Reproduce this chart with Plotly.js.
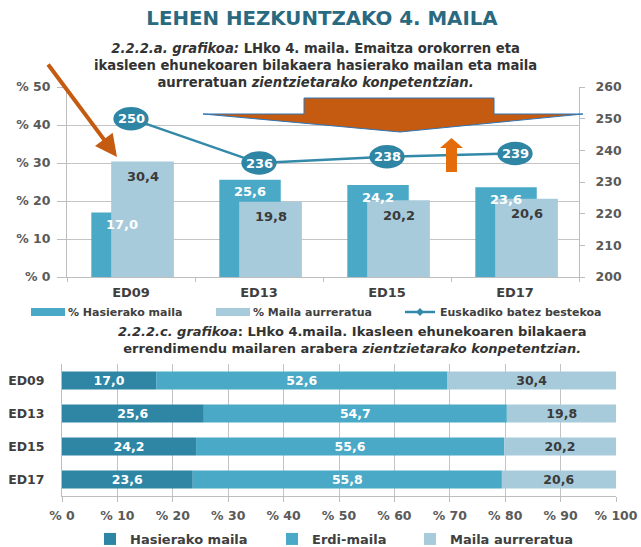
<!DOCTYPE html>
<html>
<head>
<meta charset="utf-8">
<script src="https://cdn.plot.ly/plotly-3.0.1.min.js"></script>
<style>html,body{margin:0;padding:0;background:#fff;}#chart{width:641px;height:547px;}</style>
</head>
<body>
<div id="chart"></div>
<script>
// ---- data ----
const years = ['ED09', 'ED13', 'ED15', 'ED17'];
const hasierako = [17.0, 25.6, 24.2, 23.6];
const erdiMaila = [52.6, 54.7, 55.6, 55.8];
const aurreratua = [30.4, 19.8, 20.2, 20.6];
const batezBestekoa = [250, 236, 238, 239];
const pctTicks = [0, 10, 20, 30, 40, 50];
const scoreTicks = [200, 210, 220, 230, 240, 250, 260];
const stackTicks = [0, 10, 20, 30, 40, 50, 60, 70, 80, 90, 100];

// ---- helpers ----
const W = 641, H = 547;
const X = px => px / W;
const Y = py => 1 - py / H;
const fmt = v => v.toFixed(1).replace('.', ',');
const pct = v => '% ' + v;
const FONT = '"DejaVu Sans", Verdana, sans-serif';

const cDark = '#49a9c6';
const cLight = '#a7cbdb';
const cLine = '#3289a8';
const cDeep = '#2f86a4';
const cOrange = '#c55a11';

const traces = [
  {
    type: 'bar', name: '% Hasierako maila', x: years, y: hasierako,
    width: 0.48, offset: -0.31, marker: {color: cDark},
    xaxis: 'x', yaxis: 'y', legend: 'legend'
  },
  {
    type: 'bar', name: '% Maila aurreratua', x: years, y: aurreratua,
    width: 0.49, offset: -0.155, marker: {color: cLight},
    xaxis: 'x', yaxis: 'y', legend: 'legend2'
  },
  {
    type: 'scatter', mode: 'lines+markers', name: 'Euskadiko batez bestekoa',
    x: years, y: batezBestekoa, line: {color: cLine, width: 2.5},
    marker: {color: cLine, size: 6, symbol: 'diamond'},
    xaxis: 'x', yaxis: 'y2', legend: 'legend3'
  },
  {
    type: 'bar', orientation: 'h', name: 'Hasierako maila', y: years, x: hasierako,
    base: years.map(() => 0), width: 0.55, marker: {color: cDeep},
    text: hasierako.map(fmt), textposition: 'inside', insidetextanchor: 'middle',
    constraintext: 'none', textangle: 0,
    textfont: {family: FONT, size: 12.5, color: '#ffffff', weight: 'bold'},
    xaxis: 'x3', yaxis: 'y3', legend: 'legend4'
  },
  {
    type: 'bar', orientation: 'h', name: 'Erdi-maila', y: years, x: erdiMaila,
    base: hasierako.slice(), width: 0.55, marker: {color: cDark},
    text: erdiMaila.map(fmt), textposition: 'inside', insidetextanchor: 'middle',
    constraintext: 'none', textangle: 0,
    textfont: {family: FONT, size: 12.5, color: '#ffffff', weight: 'bold'},
    xaxis: 'x3', yaxis: 'y3', legend: 'legend5'
  },
  {
    type: 'bar', orientation: 'h', name: 'Maila aurreratua', y: years, x: aurreratua,
    base: hasierako.map((v, i) => v + erdiMaila[i]), width: 0.55, marker: {color: cLight},
    text: aurreratua.map(fmt), textposition: 'inside', insidetextanchor: 'middle',
    constraintext: 'none', textangle: 0,
    textfont: {family: FONT, size: 12.5, color: '#3a3a3a', weight: 'bold'},
    xaxis: 'x3', yaxis: 'y3', legend: 'legend6'
  }
];

// ellipse markers for the average line
const shapes = batezBestekoa.map((v, i) => ({
  type: 'circle', xref: 'x', yref: 'y2',
  x0: i - 0.138, x1: i + 0.138, y0: v - 3.7, y1: v + 3.7,
  fillcolor: cDeep, line: {width: 0}
}));

// decorative orange arrows (pixel positions)
const pathFrom = pts => pts.map((p, k) => (k ? 'L' : 'M') + X(p[0]).toFixed(4) + ',' + Y(p[1]).toFixed(4)).join(' ') + ' Z';
shapes.push({
  type: 'path', xref: 'paper', yref: 'paper',
  path: pathFrom([[203,114],[304,114],[304,98],[494,98],[494,114],[583,114],[400,132]]),
  fillcolor: cOrange, line: {color: '#2e75b6', width: 1}
});
shapes.push({
  type: 'path', xref: 'paper', yref: 'paper',
  path: pathFrom([[446,172],[446,148],[440,148],[451.5,138],[463,148],[457,148],[457,172]]),
  fillcolor: '#e46c0a', line: {width: 0}
});

const annotations = [];
// score labels in ellipses
batezBestekoa.forEach((v, i) => annotations.push({
  xref: 'x', yref: 'y2', x: years[i], y: v, text: String(v), showarrow: false,
  font: {family: FONT, size: 13, color: '#ffffff', weight: 'bold'}
}));
// labels of the dark bars
hasierako.forEach((v, i) => annotations.push({
  xref: 'x', yref: 'y', x: i - 0.07, y: v, yshift: -12, text: fmt(v), showarrow: false,
  font: {family: FONT, size: 13, color: '#ffffff', weight: 'bold'}
}));
// labels of the light bars
aurreratua.forEach((v, i) => annotations.push({
  xref: 'x', yref: 'y', x: i + 0.09, y: v, yshift: -15, text: fmt(v), showarrow: false,
  font: {family: FONT, size: 13, color: '#3a3a3a', weight: 'bold'}
}));
// subtitles
annotations.push({
  xref: 'paper', yref: 'paper', x: X(315), y: Y(65), xanchor: 'center', yanchor: 'middle',
  showarrow: false, align: 'center',
  text: '<b><i>2.2.2.a. grafikoa:</i> LHko 4. maila. Emaitza orokorren eta<br>ikasleen ehunekoaren bilakaera hasierako mailan eta maila<br>aurreratuan <i>zientzietarako konpetentzian.</i></b>',
  font: {family: FONT, size: 13.2, color: '#333333'}
});
annotations.push({
  xref: 'paper', yref: 'paper', x: X(352), y: Y(340), xanchor: 'center', yanchor: 'middle',
  showarrow: false, align: 'center',
  text: '<b><i>2.2.2.c. grafikoa</i>: LHko 4.maila. Ikasleen ehunekoaren bilakaera<br>errendimendu mailaren arabera <i>zientzietarako konpetentzian.</i></b>',
  font: {family: FONT, size: 13, color: '#333333'}
});
// diagonal orange arrow
annotations.push({
  xref: 'paper', yref: 'paper', x: X(117), y: Y(157), ax: -70, ay: -94,
  text: '', showarrow: true, arrowhead: 2, arrowsize: 1.1, arrowwidth: 4,
  arrowcolor: cOrange, standoff: 0
});

const tickFont = {family: FONT, size: 12.5, color: '#5a5a5a', weight: 'bold'};
const gridC = '#c4c4c4';
const lgTop = {family: FONT, size: 11, color: '#404040', weight: 'bold'};
const lgBot = {family: FONT, size: 13, color: '#404040', weight: 'bold'};
const mkLegend = (textX, textY, font) => ({
  orientation: 'h', x: X(textX - 40), y: Y(textY), xanchor: 'left', yanchor: 'middle',
  font: font, bgcolor: 'rgba(0,0,0,0)', itemwidth: 30
});

const layout = {
  width: W, height: H,
  margin: {l: 0, r: 0, t: 0, b: 0, pad: 0, autoexpand: false},
  paper_bgcolor: '#ffffff', plot_bgcolor: 'rgba(0,0,0,0)',
  barmode: 'overlay',
  font: {family: FONT},
  title: {
    text: '<b>LEHEN HEZKUNTZAKO 4. MAILA</b>', x: X(322), y: Y(18),
    xanchor: 'center', yanchor: 'middle',
    font: {family: FONT, size: 19.8, color: '#2a6a80'}
  },
  xaxis: {
    domain: [X(67), X(579)], anchor: 'y', type: 'category',
    categoryorder: 'array', categoryarray: years,
    showline: true, linecolor: '#bdbdbd', linewidth: 1,
    ticks: 'outside', tickson: 'boundaries', ticklen: 4, tickcolor: '#bdbdbd',
    ticklabelstandoff: 3,
    tickfont: {family: FONT, size: 13, color: '#3f3f3f', weight: 'bold'},
    showgrid: false, automargin: false, fixedrange: true
  },
  yaxis: {
    domain: [Y(277), Y(87)], anchor: 'x', range: [0, 50],
    tickvals: pctTicks, ticktext: pctTicks.map(pct), tickfont: tickFont,
    showgrid: true, gridcolor: gridC, gridwidth: 1,
    showline: true, linecolor: '#bdbdbd',
    ticks: 'outside', ticklen: 9, tickcolor: '#bdbdbd', ticklabelstandoff: 4,
    zeroline: false, automargin: false, fixedrange: true
  },
  yaxis2: {
    overlaying: 'y', side: 'right', anchor: 'x', range: [200, 260],
    tickvals: scoreTicks, tickfont: tickFont,
    showgrid: false, showline: true, linecolor: '#bdbdbd',
    ticks: 'outside', ticklen: 5, tickcolor: '#bdbdbd', ticklabelstandoff: 8,
    zeroline: false, automargin: false, fixedrange: true
  },
  xaxis3: {
    domain: [X(62), X(616)], anchor: 'y3', range: [0, 100],
    tickvals: stackTicks, ticktext: stackTicks.map(pct), tickfont: tickFont,
    showgrid: true, gridcolor: gridC,
    showline: true, linecolor: '#bdbdbd',
    ticks: 'outside', ticklen: 5, tickcolor: '#bdbdbd', ticklabelstandoff: 3,
    zeroline: false, automargin: false, fixedrange: true
  },
  yaxis3: {
    domain: [Y(496), Y(364)], anchor: 'x3', type: 'category',
    categoryorder: 'array', categoryarray: years, autorange: 'reversed',
    tickfont: {family: FONT, size: 12.5, color: '#3f3f3f', weight: 'bold'},
    showline: true, linecolor: '#bdbdbd', ticks: '', showgrid: false,
    ticklabelstandoff: 14,
    automargin: false, fixedrange: true
  },
  legend: mkLegend(68, 312, lgTop),
  legend2: mkLegend(253, 312, lgTop),
  legend3: mkLegend(440, 312, lgTop),
  legend4: mkLegend(130, 539, lgBot),
  legend5: mkLegend(312, 539, lgBot),
  legend6: mkLegend(450, 539, lgBot),
  shapes: shapes,
  annotations: annotations,
  showlegend: true
};

function widenSwatches(gd) {
  // the upper legend uses long flat swatches for its two bar series
  ['legend', 'legend2'].forEach(cls => {
    gd.querySelectorAll('g.' + cls + ' g.legendpoints path').forEach(p => {
      p.setAttribute('d', 'M17,4H-17V-4H17Z');
    });
  });
}
Plotly.newPlot('chart', traces, layout, {displayModeBar: false, staticPlot: true}).then(gd => {
  widenSwatches(gd);
  setTimeout(() => widenSwatches(gd), 50);
});
</script>
</body>
</html>
